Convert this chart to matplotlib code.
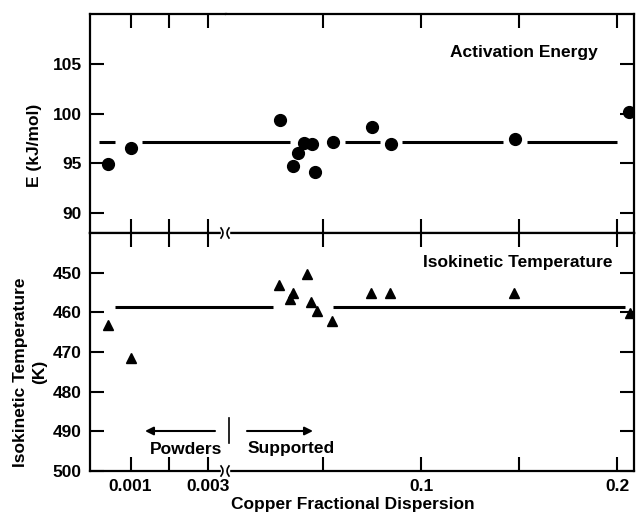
import matplotlib
matplotlib.use('Agg')
import matplotlib.pyplot as plt
from matplotlib.lines import Line2D
from matplotlib.patches import Rectangle

# Copper fractional dispersion for each sample, activation energy panel
dispersion_E = [0.00043, 0.0010, 0.0282, 0.0347, 0.0375, 0.0404, 0.0444,
                0.0460, 0.0551, 0.0749, 0.0846, 0.1478, 0.2060]
energy = [94.9, 96.5, 99.4, 94.75, 96.0, 97.0, 96.9,
          94.1, 97.1, 98.6, 96.9, 97.4, 100.2]

# isokinetic temperature panel
dispersion_T = [0.00041, 0.0010, 0.0279, 0.0333, 0.0347, 0.0418, 0.0440,
                0.0469, 0.0545, 0.0745, 0.0842, 0.1473, 0.2064]
temperature = [463.1, 471.6, 453.0, 456.6, 455.2, 450.3, 457.3,
               459.6, 462.3, 455.0, 455.0, 455.0, 460.2]

# mean lines (drawn in pieces, leaving gaps at the points)
energy_mean = 97.1
energy_mean_spans = [(0.0002, 0.0006), (0.0013, 0.0333), (0.0613, 0.0791),
                     (0.0902, 0.1417), (0.1538, 0.1996)]
temp_mean = 458.6
temp_mean_spans = [(0.0006, 0.0247), (0.0554, 0.2038)]

powder_ticks = [0.001, 0.002, 0.003]
powder_ticklabels = ['0.001', '', '0.003']
supported_ticks = [0.05, 0.1, 0.15, 0.2]
supported_ticklabels = ['', '0.1', '', '0.2']
energy_ticks = [90, 95, 100, 105]
temp_ticks = [450, 460, 470, 480, 490, 500]

powder_xlim = (-0.00004, 0.00345)
supported_xlim = (0.00075, 0.2084)
split = 0.004  # powders below, supported catalysts above

W, H = 636, 519


def fx(px):
    return px / W


def fy(py):
    return 1 - py / H


plt.rcParams['font.family'] = ['Liberation Sans', 'DejaVu Sans']
plt.rcParams['font.weight'] = 'bold'
plt.rcParams['font.size'] = 12.5

fig = plt.figure(figsize=(W / 100, H / 100), dpi=100)


def add(px0, px1, py0, py1):
    return fig.add_axes([fx(px0), fy(py1), (px1 - px0) / W, (py1 - py0) / H])


ax_tl = add(90, 226, 14, 233)
ax_tr = add(226, 634, 14, 233)
ax_bl = add(90, 226, 233, 471)
ax_br = add(226, 634, 233, 471)


def style(ax, side, bottom_labels):
    for s in ax.spines.values():
        s.set_linewidth(1.6)
    ax.tick_params(direction='in', length=10, width=1.5, top=True, bottom=True,
                   pad=6, labelbottom=bottom_labels)
    if side == 'left':
        ax.spines['right'].set_visible(False)
        ax.tick_params(axis='y', left=True, right=False)
        ax.set_xlim(*powder_xlim)
        ax.set_xticks(powder_ticks)
        ax.set_xticklabels(powder_ticklabels)
    else:
        ax.spines['left'].set_visible(False)
        ax.tick_params(axis='y', left=False, right=True, labelleft=False)
        ax.set_xlim(*supported_xlim)
        ax.set_xticks(supported_ticks)
        ax.set_xticklabels(supported_ticklabels)


style(ax_tl, 'left', False)
style(ax_tr, 'right', False)
style(ax_bl, 'left', True)
style(ax_br, 'right', True)


def mean_line(ax_left, ax_right, spans, level):
    for a, b in spans:
        if a < split:
            ax_left.plot([a, b], [level, level], color='black', lw=2.2,
                         solid_capstyle='butt')
        if b > split:
            # a span crossing the break starts at the left edge of the right part
            start = a if a >= split else supported_xlim[0] - 0.001
            ax_right.plot([start, b], [level, level], color='black', lw=2.2,
                          solid_capstyle='butt')


for ax in (ax_tl, ax_tr):
    ax.set_ylim(88, 110)
    ax.set_yticks(energy_ticks)
for ax in (ax_bl, ax_br):
    ax.set_ylim(500, 440)
    ax.set_yticks(temp_ticks)

mean_line(ax_tl, ax_tr, energy_mean_spans, energy_mean)
mean_line(ax_bl, ax_br, temp_mean_spans, temp_mean)

ax_tl.plot([x for x in dispersion_E if x < split],
           [e for x, e in zip(dispersion_E, energy) if x < split],
           'o', color='black', ms=8.5, zorder=4)
ax_tr.plot([x for x in dispersion_E if x >= split],
           [e for x, e in zip(dispersion_E, energy) if x >= split],
           'o', color='black', ms=8.5, zorder=4)
ax_bl.plot([x for x in dispersion_T if x < split],
           [t for x, t in zip(dispersion_T, temperature) if x < split],
           '^', color='black', ms=7.5, zorder=4)
ax_br.plot([x for x in dispersion_T if x >= split],
           [t for x, t in zip(dispersion_T, temperature) if x >= split],
           '^', color='black', ms=7.5, zorder=4)

ax_tr.text(0.73, 0.826, 'Activation Energy', transform=ax_tr.transAxes,
           ha='center', va='center')
ax_br.text(0.714, 0.874, 'Isokinetic Temperature', transform=ax_br.transAxes,
           ha='center', va='center')

fig.text(fx(35), fy(145), 'E (kJ/mol)', rotation=90, ha='center', va='center')
fig.text(fx(30), fy(372), 'Isokinetic Temperature\n(K)', rotation=90,
         ha='center', va='center', multialignment='center', linespacing=1.4)
fig.text(fx(353), fy(504), 'Copper Fractional Dispersion', ha='center', va='center')

# axis break marks on the middle and bottom lines
for py in (233, 471):
    fig.add_artist(Rectangle((fx(221), fy(py + 3)), 8 / W, 6 / H,
                             transform=fig.transFigure, color='white', zorder=5))
    for px, sgn in ((221, 1), (229, -1)):
        xs = [px, px + 1.5 * sgn, px + 2 * sgn, px + 1.5 * sgn, px]
        ys = [py - 5, py - 2.5, py, py + 2.5, py + 5]
        fig.add_artist(Line2D([fx(x) for x in xs], [fy(y) for y in ys],
                              transform=fig.transFigure, color='black',
                              lw=1.2, zorder=6))

# powders / supported annotation
arrow = dict(arrowstyle='-|>', color='black', lw=1.5, mutation_scale=12,
             shrinkA=0, shrinkB=0)
ax_bl.annotate('', xy=(fx(145), fy(431)), xytext=(fx(215), fy(431)),
               xycoords='figure fraction', textcoords='figure fraction',
               arrowprops=arrow)
ax_br.annotate('', xy=(fx(313), fy(431)), xytext=(fx(247), fy(431)),
               xycoords='figure fraction', textcoords='figure fraction',
               arrowprops=arrow)
fig.add_artist(Line2D([fx(229), fx(229)], [fy(418), fy(443)],
                      transform=fig.transFigure, color='black', lw=1.2))
fig.text(fx(186), fy(449), 'Powders', ha='center', va='center')
fig.text(fx(291), fy(449), 'Supported', ha='center', va='center')

fig.savefig('out.png', dpi=100)
